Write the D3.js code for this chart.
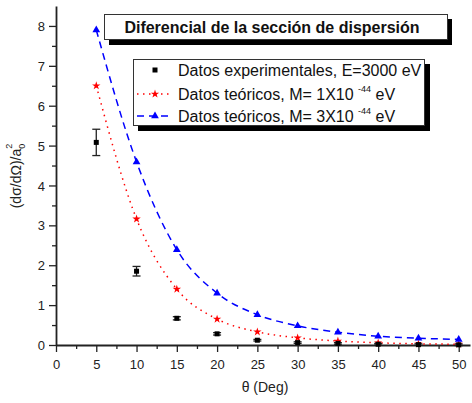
<!DOCTYPE html>
<html>
<head>
<meta charset="utf-8">
<script src="https://cdn.jsdelivr.net/npm/d3@7"></script>
<style>
  body { margin: 0; background: #fff; }
  text { font-family: Arial, "Liberation Sans", sans-serif; }
</style>
</head>
<body>
<div id="chart"></div>
<script>
// angles (deg)
const theta = [5, 10, 15, 20, 25, 30, 35, 40, 45, 50];
// experimental values and error
const expVals = [5.08, 1.85, 0.67, 0.28, 0.12, 0.06, 0.04, 0.02, 0.01, 0.005];
const expErr = [0.33, 0.12, 0.04, 0.03, 0.02, 0.02, 0.02, 0.02, 0.02, 0.02];
// theoretical M = 1X10^-44 eV
const theo1 = [6.5, 3.16, 1.4, 0.65, 0.33, 0.18, 0.1, 0.055, 0.03, 0.02];
// theoretical M = 3X10^-44 eV
const theo3 = [7.9, 4.59, 2.39, 1.3, 0.76, 0.48, 0.32, 0.22, 0.17, 0.14];
const xTicks = [0, 5, 10, 15, 20, 25, 30, 35, 40, 45, 50];
const yTicks = [0, 1, 2, 3, 4, 5, 6, 7, 8];

const width = 472, height = 403;
const margin = { top: 6, right: 2, bottom: 58, left: 56 };

const svg = d3.select('#chart').append('svg')
  .attr('width', width).attr('height', height);

const x = d3.scaleLinear().domain([0, 51.4]).range([margin.left, width - margin.right]);
const y = d3.scaleLinear().domain([0, 8.5]).range([height - margin.bottom, margin.top]);

// axes
const xAxisG = svg.append('g').attr('transform', `translate(0,${y(0)})`);
xAxisG.call(d3.axisBottom(x).tickValues(d3.range(0, 51, 2.5)).tickSizeInner(4).tickSizeOuter(0).tickFormat(''));
xAxisG.call(g => g.selectAll('.tick').filter(d => d % 5 === 0).select('line').attr('y2', 7));
xAxisG.selectAll('.tick').filter(d => xTicks.includes(d)).append('text')
  .attr('y', 24).attr('text-anchor', 'middle').attr('fill', '#222')
  .style('font-size', '13px').text(d => d);

const yAxisG = svg.append('g').attr('transform', `translate(${x(0)},0)`);
yAxisG.call(d3.axisLeft(y).tickValues(d3.range(0, 8.1, 0.5)).tickSizeInner(4).tickSizeOuter(0).tickFormat(''));
yAxisG.call(g => g.selectAll('.tick').filter(d => d % 1 === 0).select('line').attr('x2', -7));
yAxisG.selectAll('.tick').filter(d => yTicks.includes(d)).append('text')
  .attr('x', -11).attr('dy', '0.35em').attr('text-anchor', 'end').attr('fill', '#222')
  .style('font-size', '13px').text(d => d);

svg.selectAll('.domain').attr('stroke', '#222').attr('stroke-width', 1.8);
svg.selectAll('.tick line').attr('stroke', '#222').attr('stroke-width', 1.3);

// axis labels
svg.append('text').attr('x', 265).attr('y', 392).attr('text-anchor', 'middle')
  .style('font-size', '14px').attr('fill', '#222').text('θ (Deg)');

const yl = svg.append('text').attr('transform', 'translate(21,176) rotate(-90)')
  .attr('text-anchor', 'middle').style('font-size', '14px').attr('fill', '#222');
yl.append('tspan').text('(dσ/dΩ)/a');
yl.append('tspan').attr('dy', 4).style('font-size', '9px').text('0');
yl.append('tspan').attr('dx', -5).attr('dy', -13).style('font-size', '9px').text('2');

// theory lines
const line = d3.line().x((d, i) => x(theta[i])).y(d => y(d)).curve(d3.curveMonotoneX);

svg.append('path').datum(theo1).attr('d', line).attr('fill', 'none')
  .attr('stroke', '#ff0000').attr('stroke-width', 1.5).attr('stroke-dasharray', '1.5,4.5');
svg.append('path').datum(theo3).attr('d', line).attr('fill', 'none')
  .attr('stroke', '#0000ff').attr('stroke-width', 1.5).attr('stroke-dasharray', '7,5');

const star = d3.symbol().type(d3.symbolStar).size(22);
const tri = d3.symbol().type(d3.symbolTriangle).size(26);

svg.selectAll('.s1').data(theo1).enter().append('path')
  .attr('transform', (d, i) => `translate(${x(theta[i])},${y(d)})`)
  .attr('d', star).attr('fill', '#ff0000');
svg.selectAll('.s3').data(theo3).enter().append('path')
  .attr('transform', (d, i) => `translate(${x(theta[i])},${y(d)})`)
  .attr('d', tri).attr('fill', '#0000ff');

// experimental points with error bars
const ex = svg.selectAll('.ex').data(expVals).enter().append('g')
  .attr('transform', (d, i) => `translate(${x(theta[i])},0)`);
ex.append('line').attr('y1', (d, i) => y(d - expErr[i])).attr('y2', (d, i) => y(d + expErr[i]))
  .attr('stroke', '#222').attr('stroke-width', 1.3);
ex.append('line').attr('x1', -4).attr('x2', 4)
  .attr('y1', (d, i) => y(d - expErr[i])).attr('y2', (d, i) => y(d - expErr[i]))
  .attr('stroke', '#222').attr('stroke-width', 1.3);
ex.append('line').attr('x1', -4).attr('x2', 4)
  .attr('y1', (d, i) => y(d + expErr[i])).attr('y2', (d, i) => y(d + expErr[i]))
  .attr('stroke', '#222').attr('stroke-width', 1.3);
ex.append('rect').attr('x', -2.5).attr('y', d => y(d) - 2.5).attr('width', 5).attr('height', 5)
  .attr('fill', '#000');

// title box
svg.append('rect').attr('x', 109).attr('y', 19).attr('width', 343).attr('height', 26).attr('fill', '#000');
svg.append('rect').attr('x', 104.5).attr('y', 14.5).attr('width', 343).attr('height', 25)
  .attr('fill', '#fff').attr('stroke', '#333').attr('stroke-width', 1);
svg.append('text').attr('x', 272).attr('y', 33).attr('text-anchor', 'middle')
  .style('font-size', '16px').style('font-weight', 'bold').attr('fill', '#111')
  .text('Diferencial de la sección de dispersión');

// legend
const lg = svg.append('g');
lg.append('rect').attr('x', 138).attr('y', 64).attr('width', 292).attr('height', 67).attr('fill', '#000');
lg.append('rect').attr('x', 133.5).attr('y', 59.5).attr('width', 291).attr('height', 66)
  .attr('fill', '#fff').attr('stroke', '#333').attr('stroke-width', 1);

const rows = [70, 94, 116];
lg.append('rect').attr('x', 152.5).attr('y', rows[0] - 2.5).attr('width', 5).attr('height', 5).attr('fill', '#000');
lg.append('line').attr('x1', 137).attr('x2', 172).attr('y1', rows[1]).attr('y2', rows[1])
  .attr('stroke', '#ff0000').attr('stroke-width', 1.5).attr('stroke-dasharray', '1.5,4.5');
lg.append('path').attr('transform', `translate(155,${rows[1]})`).attr('d', star).attr('fill', '#ff0000');
lg.append('line').attr('x1', 137).attr('x2', 172).attr('y1', rows[2]).attr('y2', rows[2])
  .attr('stroke', '#0000ff').attr('stroke-width', 1.5).attr('stroke-dasharray', '7,5');
lg.append('path').attr('transform', `translate(155,${rows[2]})`).attr('d', tri).attr('fill', '#0000ff');

lg.append('text').attr('x', 178).attr('y', rows[0] + 5.5).style('font-size', '16px').attr('fill', '#111')
  .text('Datos experimentales, E=3000 eV');
['1', '3'].forEach((m, k) => {
  const t = lg.append('text').attr('x', 178).attr('y', rows[k + 1] + 5.5)
    .style('font-size', '16px').attr('fill', '#111');
  t.append('tspan').text('Datos teóricos, M= ' + m + 'X10 ');
  t.append('tspan').attr('dy', -8).style('font-size', '9px').text('-44');
  t.append('tspan').attr('dy', 8).text(' eV');
});
</script>
</body>
</html>
